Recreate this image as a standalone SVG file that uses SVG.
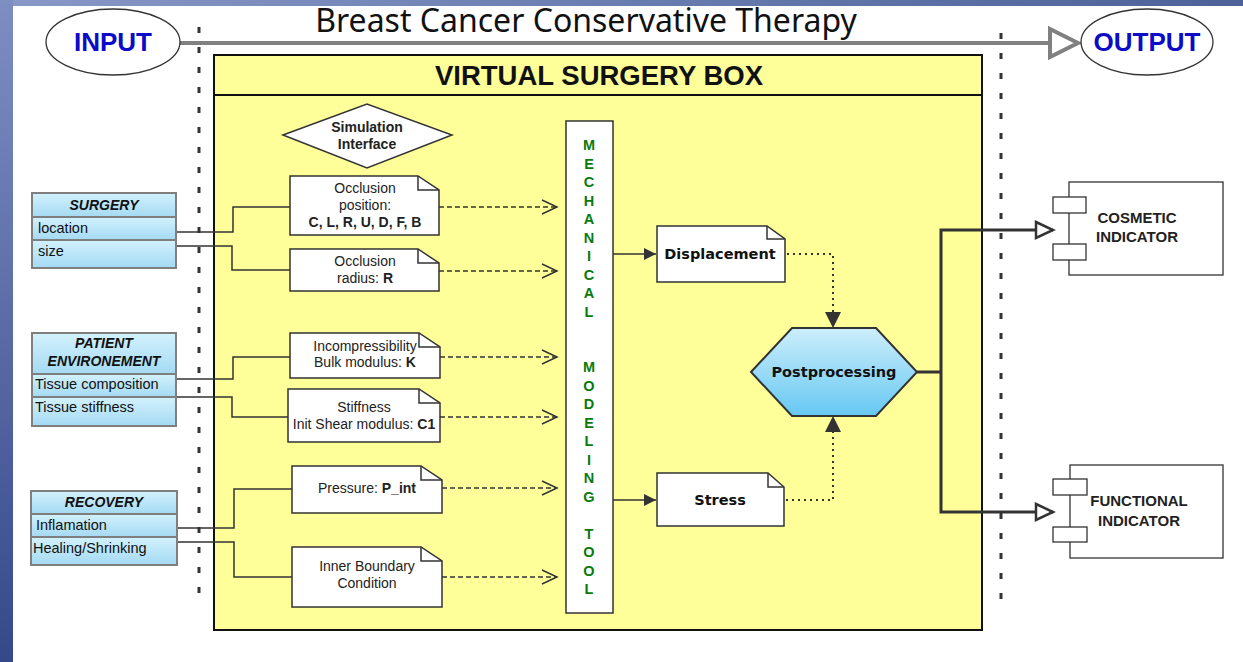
<svg xmlns="http://www.w3.org/2000/svg" width="1243" height="662" viewBox="0 0 1243 662">
<defs>
<linearGradient id="topbar" x1="0" y1="0" x2="1" y2="0"><stop offset="0" stop-color="#8797c7"/><stop offset="1" stop-color="#4d6298"/></linearGradient>
<linearGradient id="leftbar" x1="0" y1="0" x2="0" y2="1"><stop offset="0" stop-color="#7e8ec3"/><stop offset="1" stop-color="#35498a"/></linearGradient>
<linearGradient id="cls" x1="0" y1="0" x2="0" y2="1"><stop offset="0" stop-color="#d3f1fd"/><stop offset="1" stop-color="#a4daf3"/></linearGradient>
<linearGradient id="hexg" x1="0" y1="0" x2="0" y2="1"><stop offset="0" stop-color="#cdeefb"/><stop offset="1" stop-color="#66c8f3"/></linearGradient>
<marker id="chev" markerUnits="userSpaceOnUse" markerWidth="18" markerHeight="16" refX="16" refY="8" orient="auto"><path d="M1,1 L16,8 L1,15" fill="none" stroke="#333" stroke-width="1.5"/></marker>
<marker id="tri" markerUnits="userSpaceOnUse" markerWidth="13" markerHeight="12" refX="12" refY="6" orient="auto"><path d="M0,0 L12,6 L0,12 z" fill="#333"/></marker>
<marker id="triBig" markerUnits="userSpaceOnUse" markerWidth="17" markerHeight="16" refX="16" refY="8" orient="auto"><path d="M0,0 L16,8 L0,16 z" fill="#333"/></marker>
<marker id="open" markerUnits="userSpaceOnUse" markerWidth="22" markerHeight="22" refX="19" refY="11" orient="auto"><path d="M2,3 L19,11 L2,19 z" fill="#fff" stroke="#333" stroke-width="2.5"/></marker>
</defs>
<style>
.note{fill:#fff;stroke:#333;stroke-width:1.5}
.fold{fill:none;stroke:#333;stroke-width:1.5}
.nt{font-family:"Liberation Sans",Arial,sans-serif;font-size:14px;fill:#222;text-anchor:middle}
.b{font-weight:bold}
.dj{font-family:"DejaVu Sans",Verdana,sans-serif;font-size:14.5px;font-weight:bold;fill:#111;text-anchor:middle}
.cls rect{fill:url(#cls);stroke:#7f7f7f;stroke-width:2}
.ch{font-family:"Liberation Sans",Arial,sans-serif;font-size:14px;font-weight:bold;font-style:italic;fill:#111;text-anchor:middle}
.cr{font-family:"Liberation Sans",Arial,sans-serif;font-size:14.5px;fill:#111}
.mech{font-family:"Liberation Sans",Arial,sans-serif;font-size:14.5px;font-weight:bold;fill:#0a7a0a;text-anchor:middle}
.ind{font-family:"Liberation Sans",Arial,sans-serif;font-size:15px;font-weight:bold;fill:#222;text-anchor:middle}
.comp rect{fill:#fff;stroke:#333;stroke-width:1.3}
.vdash{stroke:#333;stroke-width:3;stroke-dasharray:6 14;fill:none}
.link{fill:none;stroke:#333;stroke-width:1.5}
.dashed{fill:none;stroke:#333;stroke-width:1.5;stroke-dasharray:5 3;marker-end:url(#chev)}
.dotted{fill:none;stroke:#333;stroke-width:2;stroke-dasharray:2 4;marker-end:url(#triBig)}
.thick{fill:none;stroke:#333;stroke-width:3;marker-end:url(#open)}
.io{font-family:"Liberation Sans",Arial,sans-serif;font-size:26px;font-weight:bold;fill:#0b0bc8;text-anchor:middle}
</style>

<!-- background -->
<rect x="0" y="0" width="1243" height="662" fill="url(#leftbar)"/>
<rect x="13" y="0" width="1230" height="6" fill="url(#topbar)"/>
<rect x="13" y="6" width="1230" height="656" fill="#fff"/>

<text x="586" y="32" font-family="'Noto Sans','Open Sans',sans-serif" font-size="32" fill="#111" text-anchor="middle">Breast Cancer Conservative Therapy</text>

<!-- dotted boundaries -->
<line class="vdash" x1="199" y1="27" x2="199" y2="600"/>
<line class="vdash" x1="1001" y1="33" x2="1001" y2="606"/>

<!-- yellow box -->
<g id="virtual-surgery-box">
<rect x="214" y="55" width="768" height="575" fill="#ffff99" stroke="#111" stroke-width="2"/>
<line x1="214" y1="95" x2="982" y2="95" stroke="#111" stroke-width="2"/>
<text x="599" y="85" font-family="'Liberation Sans',Arial,sans-serif" font-size="27.5" font-weight="bold" fill="#111" text-anchor="middle">VIRTUAL SURGERY BOX</text>
</g>

<!-- connectors -->
<g id="connectors">
<line x1="180" y1="43" x2="1050" y2="43" stroke="#808080" stroke-width="4"/>
<polygon points="1050,29 1078,43 1050,57" fill="#fff" stroke="#808080" stroke-width="4" stroke-linejoin="miter"/>

<path class="link" d="M176,232 H233 V207 H290"/>
<path class="link" d="M176,246 H232 V270 H290"/>
<path class="link" d="M176,379 H233 V357 H290"/>
<path class="link" d="M176,397 H232 V417 H288"/>
<path class="link" d="M177,528 H234 V489 H292"/>
<path class="link" d="M177,542 H234 V577 H292"/>

<line class="dashed" x1="439" y1="207" x2="557" y2="207"/>
<line class="dashed" x1="439" y1="271" x2="557" y2="271"/>
<line class="dashed" x1="440" y1="357" x2="557" y2="357"/>
<line class="dashed" x1="440" y1="417" x2="557" y2="417"/>
<line class="dashed" x1="442" y1="488" x2="557" y2="488"/>
<line class="dashed" x1="442" y1="577" x2="557" y2="577"/>

<line x1="613" y1="254" x2="656" y2="254" stroke="#333" stroke-width="1.5" marker-end="url(#tri)"/>
<line x1="613" y1="500" x2="656" y2="500" stroke="#333" stroke-width="1.5" marker-end="url(#tri)"/>

<path class="dotted" d="M787,254 H833 V328"/>
<path class="dotted" d="M786,500 H833 V416"/>

<path d="M917,372 H941" fill="none" stroke="#333" stroke-width="3"/>
<path class="thick" d="M941,372 V230 H1053"/>
<path class="thick" d="M941,372 V512 H1053"/>
</g>

<g id="input">
<ellipse cx="113" cy="42" rx="67" ry="33" fill="#fff" stroke="#333" stroke-width="1.3"/>
<text class="io" x="113" y="51">INPUT</text>
</g>
<g id="output">
<ellipse cx="1147" cy="42" rx="66" ry="33" fill="#fff" stroke="#333" stroke-width="1.3"/>
<text class="io" x="1147" y="51">OUTPUT</text>
</g>

<!-- left class boxes -->
<g id="surgery" class="cls">
<rect x="32" y="193" width="144" height="24"/>
<rect x="32" y="217" width="144" height="23"/>
<rect x="32" y="240" width="144" height="28"/>
<text class="ch" x="104" y="210">SURGERY</text>
<text class="cr" x="38" y="233">location</text>
<text class="cr" x="38" y="256">size</text>
</g>
<g id="patient" class="cls">
<rect x="32" y="333" width="144" height="41"/>
<rect x="32" y="374" width="144" height="23"/>
<rect x="32" y="397" width="144" height="29"/>
<text class="ch" x="104" y="348">PATIENT</text>
<text class="ch" x="104" y="366">ENVIRONEMENT</text>
<text class="cr" x="35" y="389">Tissue composition</text>
<text class="cr" x="35" y="412">Tissue stiffness</text>
</g>
<g id="recovery" class="cls">
<rect x="31" y="491" width="146" height="23"/>
<rect x="31" y="514" width="146" height="23"/>
<rect x="31" y="537" width="146" height="28"/>
<text class="ch" x="104" y="507">RECOVERY</text>
<text class="cr" x="36" y="530">Inflamation</text>
<text class="cr" x="33" y="553">Healing/Shrinking</text>
</g>

<!-- simulation interface -->
<g id="simulation-interface">
<polygon points="283,135 367,104 452,135 367,168" fill="#fff" stroke="#333" stroke-width="1.5"/>
<text class="nt b" x="367" y="132" font-size="13">Simulation</text>
<text class="nt b" x="367" y="149" font-size="13">Interface</text>
</g>

<!-- notes -->
<g id="occlusion-position">
<path class="note" d="M290,176 H418 L439,190 V235 H290 Z"/>
<path class="fold" d="M418,176 V190 H439"/>
<text class="nt" x="365" y="193">Occlusion</text>
<text class="nt" x="365" y="210">position:</text>
<text class="nt b" x="365" y="227">C, L, R, U, D, F, B</text>
</g>
<g id="occlusion-radius">
<path class="note" d="M290,249 H418 L439,263 V291 H290 Z"/>
<path class="fold" d="M418,249 V263 H439"/>
<text class="nt" x="365" y="266">Occlusion</text>
<text class="nt" x="365" y="283">radius: <tspan class="b">R</tspan></text>
</g>
<g id="incompressibility">
<path class="note" d="M290,333 H419 L440,347 V378 H290 Z"/>
<path class="fold" d="M419,333 V347 H440"/>
<text class="nt" x="365" y="351">Incompressibility</text>
<text class="nt" x="365" y="367">Bulk modulus: <tspan class="b">K</tspan></text>
</g>
<g id="stiffness">
<path class="note" d="M288,389 H419 L440,403 V442 H288 Z"/>
<path class="fold" d="M419,389 V403 H440"/>
<text class="nt" x="364" y="412">Stiffness</text>
<text class="nt" x="364" y="429">Init Shear modulus: <tspan class="b">C1</tspan></text>
</g>
<g id="pressure">
<path class="note" d="M292,466 H421 L442,480 V513 H292 Z"/>
<path class="fold" d="M421,466 V480 H442"/>
<text class="nt" x="367" y="493">Pressure: <tspan class="b">P_int</tspan></text>
</g>
<g id="inner-boundary">
<path class="note" d="M292,547 H421 L442,561 V607 H292 Z"/>
<path class="fold" d="M421,547 V561 H442"/>
<text class="nt" x="367" y="571">Inner Boundary</text>
<text class="nt" x="367" y="588">Condition</text>
</g>

<!-- mechanical modeling tool -->
<g id="mechanical-modeling-tool">
<rect x="566" y="121" width="47" height="492" fill="#fff" stroke="#333" stroke-width="1.5"/>
<text class="mech" x="589" y="150">M</text>
<text class="mech" x="589" y="168.5">E</text>
<text class="mech" x="589" y="187">C</text>
<text class="mech" x="589" y="205.5">H</text>
<text class="mech" x="589" y="224">A</text>
<text class="mech" x="589" y="242.5">N</text>
<text class="mech" x="589" y="261">I</text>
<text class="mech" x="589" y="279.5">C</text>
<text class="mech" x="589" y="298">A</text>
<text class="mech" x="589" y="316.5">L</text>
<text class="mech" x="589" y="372">M</text>
<text class="mech" x="589" y="390.5">O</text>
<text class="mech" x="589" y="409">D</text>
<text class="mech" x="589" y="427.5">E</text>
<text class="mech" x="589" y="446">L</text>
<text class="mech" x="589" y="464.5">I</text>
<text class="mech" x="589" y="483">N</text>
<text class="mech" x="589" y="501.5">G</text>
<text class="mech" x="589" y="538.5">T</text>
<text class="mech" x="589" y="557">O</text>
<text class="mech" x="589" y="575.5">O</text>
<text class="mech" x="589" y="594">L</text>
</g>

<g id="displacement">
<path class="note" d="M657,226 H767 L785,239 V282 H657 Z"/>
<path class="fold" d="M767,226 V239 H785"/>
<text class="dj" x="720" y="259">Displacement</text>
</g>
<g id="stress">
<path class="note" d="M657,473 H768 L784,487 V526 H657 Z"/>
<path class="fold" d="M768,473 V487 H784"/>
<text class="dj" x="720" y="505">Stress</text>
</g>

<g id="postprocessing">
<polygon points="751,372 792,328 876,328 917,372 876,416 792,416" fill="url(#hexg)" stroke="#333" stroke-width="2"/>
<text class="dj" x="834" y="377">Postprocessing</text>
</g>

<g id="cosmetic-indicator" class="comp">
<rect x="1069" y="182" width="154" height="93"/>
<rect x="1053" y="197" width="33" height="16"/>
<rect x="1053" y="244" width="33" height="16"/>
<text class="ind" x="1137" y="223">COSMETIC</text>
<text class="ind" x="1137" y="242">INDICATOR</text>
</g>
<g id="functional-indicator" class="comp">
<rect x="1070" y="465" width="153" height="93"/>
<rect x="1053" y="479" width="34" height="16"/>
<rect x="1053" y="527" width="34" height="15"/>
<text class="ind" x="1139" y="506">FUNCTIONAL</text>
<text class="ind" x="1139" y="526">INDICATOR</text>
</g>
</svg>
